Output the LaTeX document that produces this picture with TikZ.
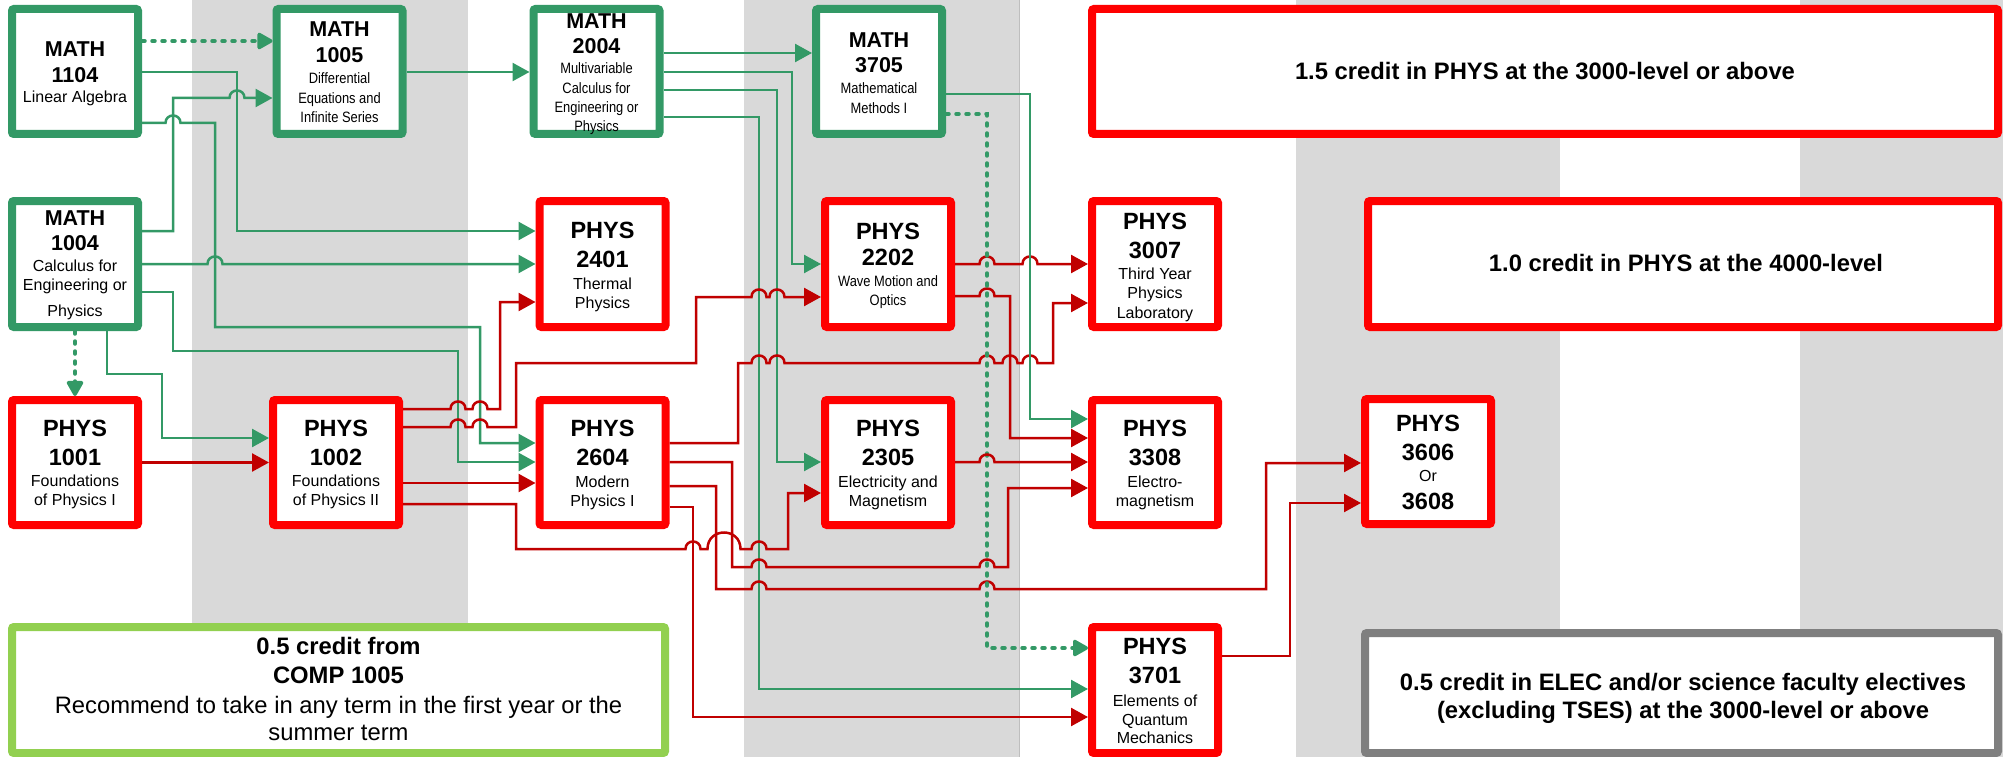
\documentclass[tikz,border=0pt]{standalone}
\usepackage{fontspec}
\setmainfont{Liberation Sans}
\newfontfamily\narfont{Liberation Sans}[FakeStretch=0.86]
\usetikzlibrary{arrows.meta}
\definecolor{mgreen}{HTML}{339966}
\definecolor{lgreen}{HTML}{92D050}
\definecolor{dred}{HTML}{C00000}
\definecolor{bandgray}{HTML}{D9D9D9}
\definecolor{bandline}{HTML}{BEBEBE}
\definecolor{egray}{HTML}{7F7F7F}
\newcommand\fmb{\fontsize{21.5}{26}\selectfont\bfseries}
\newcommand\fpb{\fontsize{23.5}{28}\selectfont\bfseries}
\newcommand\flb{\fontsize{23.8}{28}\selectfont\bfseries}
\newcommand\flr{\fontsize{23.8}{28}\selectfont}
\newcommand\fsr{\fontsize{16}{19}\selectfont}
\newcommand\fsn{\narfont\fontsize{15}{18}\selectfont}
\newcommand\jmpS[2]{-- ({#1-7.5},#2) .. controls ({#1-7.5},{#2-10}) and ({#1+7.5},{#2-10}) .. ({#1+7.5},#2)}
\newcommand\jmpW[2]{-- ({#1-16.5},#2) .. controls ({#1-16.5},{#2-22}) and ({#1+16.5},{#2-22}) .. ({#1+16.5},#2)}
\newcommand\txt[3]{\foreach \bY/\bF/\bT [count=\bI] in {#3}{\node[anchor=base,inner sep=0pt,font=\bF] (#1t\bI) at (#2,\bY) {\bT};}}
\begin{document}
\begin{tikzpicture}[x=1pt,y=-1pt,
  gbox/.style={draw=mgreen, line width=8pt, fill=white, rounded corners=2pt, inner sep=0pt, minimum width=126pt, minimum height=125pt},
  rbox/.style={gbox, draw=red},
  gline/.style={draw=mgreen, line width=2.5pt, -{Triangle[length=17pt 0 0,width=18pt 0 0]}},
  rline/.style={draw=dred, line width=2.5pt, -{Triangle[length=17pt 0 0,width=18pt 0 0]}},
  gdash/.style={draw=mgreen, line width=3.5pt, dash pattern=on 3pt off 7pt, line cap=round, -{Triangle[length=17pt 0 0,width=18pt 0 0,round=false]}}]
\useasboundingbox (0,0) rectangle (2003,757);
% background bands
\fill[bandgray] (192,0) rectangle (468,757);
\fill[bandgray] (744,0) rectangle (1020,757);
\fill[bandgray] (1296,0) rectangle (1560,757);
\fill[bandgray] (1800,0) rectangle (2003,757);
\draw[bandline, line width=1.2pt] (1019.4,0) -- (1019.4,757);
% boxes
\node[gbox] (m1104) at (75,71.5) {};
\node[gbox] (m1005) at (339.5,71.5) {};
\node[gbox] (m2004) at (596.5,71.5) {};
\node[gbox] (m3705) at (879,71.5) {};
\node[rbox, minimum width=906pt] (b15) at (1545,71.5) {};
\node[gbox, minimum height=126pt] (m1004) at (75,264) {};
\node[rbox, minimum height=126pt] (p2401) at (602.5,264) {};
\node[rbox, minimum height=126pt] (p2202) at (888,264) {};
\node[rbox, minimum height=126pt] (p3007) at (1155,264) {};
\node[rbox, minimum width=630pt, minimum height=126pt] (b10) at (1683,264) {};
\node[rbox] (p1001) at (75,462.5) {};
\node[rbox] (p1002) at (336,462.5) {};
\node[rbox] (p2604) at (602.5,462.5) {};
\node[rbox] (p2305) at (888,462.5) {};
\node[rbox] (p3308) at (1155,462.5) {};
\node[rbox] (p3606) at (1428,461.5) {};
\node[gbox, draw=lgreen, minimum width=653pt, minimum height=126pt] (comp) at (338.5,690) {};
\node[rbox, minimum height=126pt] (p3701) at (1155,690) {};
\node[gbox, draw=egray, minimum width=633pt, minimum height=120pt] (elec) at (1681.5,693) {};
% texts
\txt{m1104}{75}{56.7/\fmb/MATH, 82.7/\fmb/1104, 102.3/\fsr/Linear Algebra}
\txt{m1005}{339.5}{36.7/\fmb/MATH, 62.7/\fmb/1005, 84/\fsn/Differential, 103.3/\fsn/Equations and, 122.7/\fsn/Infinite Series}
\txt{m2004}{596.5}{28.3/\fmb/MATH, 53.3/\fmb/2004, 74/\fsn/Multivariable, 93.3/\fsn/Calculus for, 112.7/\fsn/Engineering or, 131.7/\fsn/Physics}
\txt{m3705}{879}{47.3/\fmb/MATH, 72.3/\fmb/3705, 93.3/\fsn/Mathematical, 113.3/\fsn/Methods I}
\txt{m1004}{75}{225/\fmb/MATH, 250/\fmb/1004, 271.7/\fsr/Calculus for, 290/\fsr/Engineering or, 316.7/\fsr/Physics}
\txt{p2401}{602.5}{238.3/\fpb/PHYS, 267.3/\fpb/2401, 289.3/\fsr/Thermal, 308.3/\fsr/Physics}
\txt{p2202}{888}{239.3/\fpb/PHYS, 265/\fpb/2202, 286/\fsn/Wave Motion and, 305/\fsn/Optics}
\txt{p3007}{1155}{229.3/\fpb/PHYS, 258.3/\fpb/3007, 279.3/\fsr/Third Year, 298.3/\fsr/Physics, 318.3/\fsr/Laboratory}
\txt{p1001}{75}{436.7/\fpb/PHYS, 465/\fpb/1001, 486.7/\fsr/Foundations, 505.7/\fsr/of Physics I}
\txt{p1002}{336}{436.7/\fpb/PHYS, 465/\fpb/1002, 486.7/\fsr/Foundations, 505.7/\fsr/of Physics II}
\txt{p2604}{602.5}{436.7/\fpb/PHYS, 465/\fpb/2604, 487.3/\fsr/Modern, 506/\fsr/Physics I}
\txt{p2305}{888}{436.7/\fpb/PHYS, 465/\fpb/2305, 487.3/\fsr/Electricity and, 506/\fsr/Magnetism}
\txt{p3308}{1155}{436.7/\fpb/PHYS, 465/\fpb/3308, 487.3/\fsr/Electro-, 506/\fsr/magnetism}
\txt{p3606}{1428}{431.7/\fpb/PHYS, 460.7/\fpb/3606, 481.7/\fsr/Or, 509.3/\fpb/3608}
\txt{p3701}{1155}{654.3/\fpb/PHYS, 683.3/\fpb/3701, 706/\fsr/Elements of, 725/\fsr/Quantum, 743.3/\fsr/Mechanics}
\txt{comp}{338.5}{654.3/\flb/0.5 credit from, 683.3/\flb/COMP 1005, 713.3/\flr/Recommend to take in any term in the first year or the, 740.7/\flr/summer term}
\node[anchor=base, inner sep=0pt, font=\flb] (b15t1) at (1545,80) {1.5 credit in PHYS at the 3000-level or above};
\node[anchor=base, inner sep=0pt, font=\flb] (b10t1) at (1686,271.7) {1.0 credit in PHYS at the 4000-level};
\node[anchor=base, inner sep=0pt, font=\flb] (elect1) at (1683,690) {0.5 credit in ELEC and/or science faculty electives};
\node[anchor=base, inner sep=0pt, font=\flb] (elect2) at (1683,718.3) {(excluding TSES) at the 3000-level or above};
% connectors
\draw[gdash] (m1104.east |- 0,41) -- (m1005.west |- 0,41);
\draw[gline] (m1104.east |- 0,72) -- (237,72) -- (237,231) -- (p2401.west |- 0,231);
\draw[gline] (m1104.east |- 0,123) \jmpS{173}{123} -- (215,123) -- (215,327) -- (480,327) -- (480,443) -- (p2604.west |- 0,443);
\draw[gline] (m1004.east |- 0,231) -- (173,231) -- (173,98) \jmpS{237}{98} -- (m1005.west |- 0,98);
\draw[gline] (m1004.east |- 0,264) \jmpS{215}{264} -- (p2401.west |- 0,264);
\draw[gline] (m1004.east |- 0,292) -- (173,292) -- (173,351) -- (458,351) -- (458,462) -- (p2604.west |- 0,462);
\draw[gdash] (m1004.south) -- (p1001.north);
\draw[gline] (m1004.south -| 107,0) -- (107,374) -- (162,374) -- (162,438) -- (p1002.west |- 0,438);
\draw[rline] (p1001) -- (p1002);
\draw[gline] (m1005.east |- 0,72) -- (m2004.west |- 0,72);
\draw[gline] (m2004.east |- 0,53) -- (m3705.west |- 0,53);
\draw[gline] (m2004.east |- 0,72) -- (792,72) -- (792,264) -- (p2202.west |- 0,264);
\draw[gline] (m2004.east |- 0,90) -- (777,90) -- (777,462) -- (p2305.west |- 0,462);
\draw[gline] (m2004.east |- 0,117) -- (759,117) -- (759,689) -- (p3701.west |- 0,689);
\draw[rline] (p1002.east |- 0,409) \jmpS{458}{409} \jmpS{480}{409} -- (500,409) -- (500,302) -- (p2401.west |- 0,302);
\draw[rline] (p1002.east |- 0,427) \jmpS{458}{427} \jmpS{480}{427} -- (516,427) -- (516,363) -- (696,363) -- (696,297) \jmpS{759}{297} \jmpS{777}{297} -- (p2202.west |- 0,297);
\draw[rline] (p1002.east |- 0,483) -- (p2604.west |- 0,483);
\draw[rline] (p1002.east |- 0,504) -- (516,504) -- (516,549) \jmpS{693}{549} \jmpW{724}{549} \jmpS{759}{549} -- (788,549) -- (788,493) -- (p2305.west |- 0,493);
\draw[rline] (p2604.east |- 0,443) -- (738,443) -- (738,363) \jmpS{759}{363} \jmpS{777}{363} \jmpS{987}{363} \jmpS{1010}{363} \jmpS{1030}{363} -- (1053,363) -- (1053,303) -- (p3007.west |- 0,303);
\draw[rline] (p2604.east |- 0,462) -- (732,462) -- (732,567) \jmpS{759}{567} \jmpS{987}{567} -- (1008,567) -- (1008,488) -- (p3308.west |- 0,488);
\draw[rline] (p2604.east |- 0,486) -- (716,486) -- (716,589) \jmpS{759}{589} \jmpS{987}{589} -- (1266,589) -- (1266,463) -- (p3606.west |- 0,463);
\draw[rline] (p2604.east |- 0,507) -- (693,507) -- (693,717) -- (p3701.west |- 0,717);
\draw[rline] (p2202.east |- 0,264) \jmpS{987}{264} \jmpS{1030}{264} -- (p3007.west |- 0,264);
\draw[rline] (p2202.east |- 0,296) \jmpS{987}{296} -- (1010,296) -- (1010,438) -- (p3308.west |- 0,438);
\draw[gline] (m3705.east |- 0,94) -- (1030,94) -- (1030,419) -- (p3308.west |- 0,419);
\draw[gdash] (m3705.east |- 0,114) -- (987,114) -- (987,648) -- (p3701.west |- 0,648);
\draw[rline] (p2305.east |- 0,462) \jmpS{987}{462} -- (p3308.west |- 0,462);
\draw[rline] (p3701.east |- 0,656) -- (1290,656) -- (1290,503) -- (p3606.west |- 0,503);
\end{tikzpicture}
\end{document}
